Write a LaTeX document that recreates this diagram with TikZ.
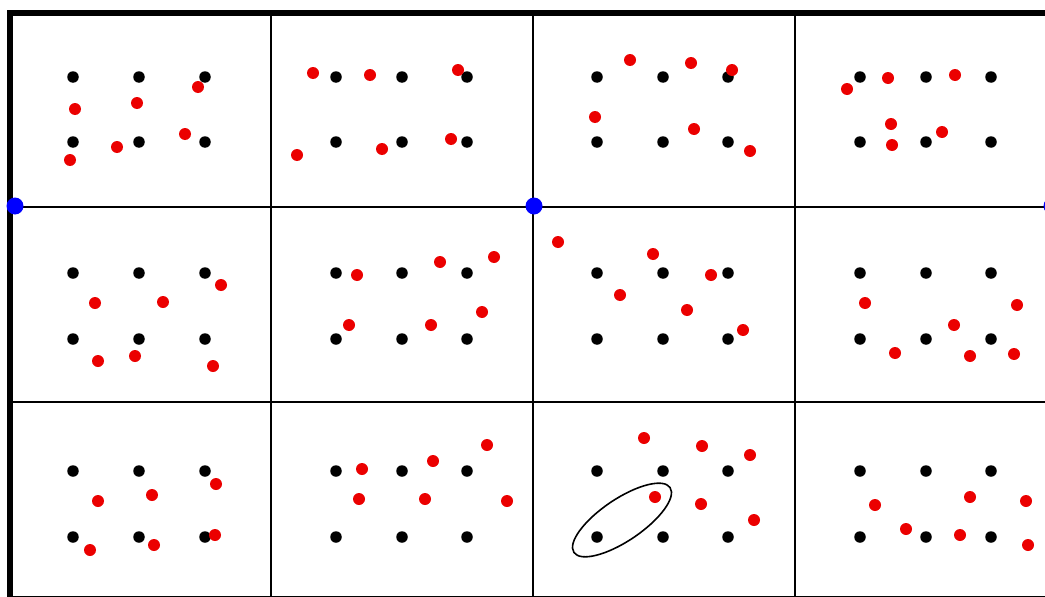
\documentclass[tikz,border=0pt]{standalone}
\usepackage{xcolor}
\usetikzlibrary{shapes.geometric}

\begin{document}
\begin{tikzpicture}[x=1pt, y=-1pt,
        blackdot/.style={circle, fill=black, inner sep=0pt, minimum size=11.5pt},
        reddot/.style={circle, fill=red!92!black, inner sep=0pt, minimum size=12pt},
        bluedot/.style={circle, fill=blue, inner sep=0pt, minimum size=17pt},
        ring/.style={ellipse, draw, line width=1.6pt, inner sep=0pt, minimum width=116pt, minimum height=42pt},
        gridline/.style={draw, line width=2.6pt},
        frameline/.style={draw, line width=6pt}]

        \useasboundingbox (0,0) rectangle (1045,597);
        \clip (0,0) rectangle (1045,597);

        % Grid
        \foreach \gx in {271,533,795}
            \draw [gridline] (\gx,13) -- (\gx,600);
        \foreach \gy in {207,402,597}
            \draw [gridline] (10,\gy) -- (1060,\gy);
        \draw [frameline] (10,600) -- (10,13) -- (1060,13);

        % Black dots
        \foreach \cx [count=\i] in {73,139,205,336,402,467,597,663,728,860,926,991}
            \foreach \cy [count=\j] in {77,142,273,339,471,537}
                \node [blackdot] (b-\i-\j) at (\cx,\cy) {};

        % Red dots
        \foreach \p [count=\k] in {
            (75,109),(137,103),(198,87),(185,134),(117,147),(70,160),
            (313,73),(370,75),(458,70),(297,155),(382,149),(451,139),
            (630,60),(691,63),(732,70),(595,117),(694,129),(750,151),
            (847,89),(888,78),(955,75),(891,124),(892,145),(942,132),
            (95,303),(163,302),(221,285),(98,361),(135,356),(213,366),
            (357,275),(440,262),(494,257),(349,325),(431,325),(482,312),
            (558,242),(653,254),(711,275),(620,295),(687,310),(743,330),
            (865,303),(1017,305),(954,325),(895,353),(970,356),(1014,354),
            (98,501),(152,495),(216,484),(90,550),(154,545),(215,535),
            (362,469),(433,461),(487,445),(359,499),(425,499),(507,501),
            (644,438),(702,446),(750,455),(655,497),(701,504),(754,520),
            (875,505),(970,497),(1026,501),(906,529),(960,535),(1028,545)}
            \node [reddot] (r\k) at \p {};

        % Blue corners
        \node [bluedot] (left) at (15,206) {};
        \node [bluedot] (mid) at (534,206) {};
        \node [bluedot] (right) at (1052,206) {};

        % Marked pair
        \node [ring, rotate=34] (pair) at (622,520) {};

    \end{tikzpicture}
\end{document}
